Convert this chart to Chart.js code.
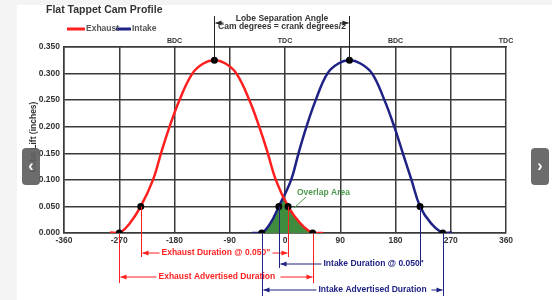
<!DOCTYPE html>
<html>
<head>
<meta charset="utf-8">
<script src="https://cdn.jsdelivr.net/npm/chart.js@4"></script>
<style>
  html, body { margin: 0; padding: 0; background: #f4f4f4; }
  #wrap { position: relative; width: 552px; height: 300px; }
  .nav {
    position: absolute; width: 18px; height: 37px; top: 148px;
    background: rgba(95,95,95,0.92); border-radius: 4px; color: #fff;
    font: bold 16px "Liberation Sans", sans-serif; line-height: 35px; text-align: center;
  }
</style>
</head>
<body>
<div id="wrap">
  <canvas id="cam" width="552" height="300"></canvas>
  <div class="nav" style="left:22px">&lsaquo;</div>
  <div class="nav" style="left:531px">&rsaquo;</div>
</div>
<script>
// cam degrees vs lobe lift (inches)
const exhaustDeg  = [-285, -270, -253, -235, -215, -202, -188, -172, -151, -133, -115, -97, -79, -58, -42, -28, -15, 5, 25, 45, 62];
const exhaustLift = [0.001, 0.000, 0.018, 0.050, 0.100, 0.150, 0.200, 0.250, 0.300, 0.319, 0.325, 0.319, 0.300, 0.250, 0.200, 0.150, 0.100, 0.050, 0.018, 0.000, 0.000];
const intakeDeg   = [-54, -38, -24, -10, 10, 22, 35, 50, 69, 87, 105, 123, 142, 162, 178, 192, 206, 220, 238, 257, 272];
const intakeLift  = [0.000, 0.000, 0.018, 0.050, 0.100, 0.150, 0.200, 0.250, 0.300, 0.319, 0.325, 0.319, 0.300, 0.250, 0.200, 0.150, 0.100, 0.050, 0.018, 0.000, 0.001];
const overlapDeg  = [-38, -24, -10, -2, 5, 25, 45];
const overlapLift = [0.000, 0.018, 0.050, 0.068, 0.050, 0.018, 0.000];

// marked events: open, 0.050 open, peak, 0.050 close, close
const exhaustEventDeg  = [-270, -235, -115, 5, 45];
const exhaustEventLift = [0.000, 0.050, 0.325, 0.050, 0.000];
const intakeEventDeg   = [-38, -10, 105, 220, 257];
const intakeEventLift  = [0.000, 0.050, 0.325, 0.050, 0.000];

const topMarkDeg    = [-180, 0, 180, 360];
const topMarkLabels = ["BDC", "TDC", "BDC", "TDC"];

const RED = "#ff1f1f";
const BLUE = "#1f2285";
const GRID = "#3a3a3a";
const FONT = "'Liberation Sans', Arial, sans-serif";

const pts = (xs, ys) => xs.map((x, i) => ({ x: x, y: ys[i] }));

function arrow(ctx, x1, y, x2, color) {
  const dir = x2 > x1 ? 1 : -1;
  ctx.strokeStyle = color;
  ctx.fillStyle = color;
  ctx.lineWidth = 1;
  ctx.beginPath();
  ctx.moveTo(x1, y);
  ctx.lineTo(x2, y);
  ctx.stroke();
  ctx.beginPath();
  ctx.moveTo(x2, y);
  ctx.lineTo(x2 - dir * 6, y - 2.5);
  ctx.lineTo(x2 - dir * 6, y + 2.5);
  ctx.closePath();
  ctx.fill();
}

function vline(ctx, x, y1, y2, color) {
  ctx.strokeStyle = color;
  ctx.lineWidth = 1;
  ctx.beginPath();
  ctx.moveTo(x, y1);
  ctx.lineTo(x, y2);
  ctx.stroke();
}

const overlay = {
  id: "overlay",
  beforeDraw(chart) {
    const ctx = chart.ctx;
    ctx.save();
    ctx.fillStyle = "#f4f4f4";
    ctx.fillRect(0, 0, chart.width, chart.height);
    ctx.fillStyle = "#ffffff";
    ctx.fillRect(17, 5, chart.width - 17, chart.height - 5);
    ctx.restore();
  },
  afterDraw(chart) {
    const ctx = chart.ctx;
    const xs = chart.scales.x, ys = chart.scales.y;
    const px = (v) => Math.round(xs.getPixelForValue(v)) + 0.5;
    ctx.save();

    // title
    ctx.fillStyle = "#333";
    ctx.font = "bold 10.5px " + FONT;
    ctx.textBaseline = "middle";
    ctx.textAlign = "left";
    ctx.fillText("Flat Tappet Cam Profile", 46, 10);

    // legend
    ctx.lineWidth = 3;
    ctx.strokeStyle = RED;
    ctx.beginPath(); ctx.moveTo(67, 29); ctx.lineTo(85, 29); ctx.stroke();
    ctx.strokeStyle = BLUE;
    ctx.beginPath(); ctx.moveTo(116, 29); ctx.lineTo(131, 29); ctx.stroke();
    ctx.fillStyle = "#555";
    ctx.font = "bold 8.5px " + FONT;
    ctx.fillText("Exhaust", 86, 29);
    ctx.fillText("Intake", 132, 29);

    // y axis title
    ctx.save();
    ctx.translate(34, 137);
    ctx.rotate(-Math.PI / 2);
    ctx.textAlign = "center";
    ctx.fillStyle = "#333";
    ctx.fillText("Lobe Lift (inches)", 0, 0);
    ctx.restore();

    // lobe separation
    const exPk = px(exhaustEventDeg[2]), inPk = px(intakeEventDeg[2]);
    vline(ctx, exPk, 16, ys.getPixelForValue(exhaustEventLift[2]), "#222");
    vline(ctx, inPk, 16, ys.getPixelForValue(intakeEventLift[2]), "#222");
    arrow(ctx, exPk + 9, 23, exPk + 1, "#222");
    arrow(ctx, inPk - 9, 23, inPk - 1, "#222");
    ctx.fillStyle = "#333";
    ctx.textAlign = "center";
    ctx.font = "bold 8.5px " + FONT;
    const mid = (exPk + inPk) / 2;
    ctx.fillText("Lobe Separation Angle", mid, 19);
    ctx.fillText("Cam degrees = crank degrees/2", mid, 27);

    // overlap label
    ctx.fillStyle = "#4f9a4f";
    ctx.textAlign = "left";
    ctx.font = "bold 8.5px " + FONT;
    ctx.fillText("Overlap Area", 297, 193);
    ctx.strokeStyle = "#4f9a4f";
    ctx.lineWidth = 1;
    ctx.beginPath(); ctx.moveTo(306, 197); ctx.lineTo(294, 208); ctx.stroke();

    // durations
    ctx.font = "bold 8.5px " + FONT;
    ctx.textAlign = "left";
    const d0 = 0.5 + Math.round(ys.getPixelForValue(0.05));
    const z0 = 0.5 + Math.round(ys.getPixelForValue(0));

    // exhaust @ 0.050
    let a = px(exhaustEventDeg[1]), b = px(exhaustEventDeg[3]);
    vline(ctx, a, d0, 257, RED); vline(ctx, b, d0, 257, RED);
    ctx.fillStyle = RED;
    ctx.fillText("Exhaust Duration @ 0.050\"", a + 20, 253);
    arrow(ctx, a + 18, 253, a + 1, RED);
    arrow(ctx, b - 16, 253, b - 1, RED);

    // exhaust advertised
    a = px(exhaustEventDeg[0]); b = px(exhaustEventDeg[4]);
    vline(ctx, a, z0, 283, RED); vline(ctx, b, z0, 283, RED);
    ctx.fillStyle = RED;
    ctx.fillText("Exhaust Advertised Duration", a + 39, 277);
    arrow(ctx, a + 37, 277, a + 1, RED);
    arrow(ctx, b - 33, 277, b - 1, RED);

    // intake @ 0.050
    a = px(intakeEventDeg[1]); b = px(intakeEventDeg[3]);
    vline(ctx, a, d0, 268, BLUE); vline(ctx, b, d0, 266, BLUE);
    ctx.fillStyle = BLUE;
    ctx.fillText("Intake Duration @ 0.050\"", a + 44, 264);
    arrow(ctx, a + 42, 264, a + 1, BLUE);

    // intake advertised
    a = px(intakeEventDeg[0]); b = px(intakeEventDeg[4]);
    vline(ctx, a, z0, 296, BLUE); vline(ctx, b, z0, 296, BLUE);
    ctx.fillStyle = BLUE;
    ctx.fillText("Intake Advertised Duration", a + 56, 290);
    arrow(ctx, a + 54, 290, a + 1, BLUE);
    arrow(ctx, b - 12, 290, b - 1, BLUE);

    ctx.restore();
  }
};

new Chart(document.getElementById("cam").getContext("2d"), {
  type: "scatter",
  data: {
    datasets: [
      {
        label: "Exhaust",
        data: pts(exhaustDeg, exhaustLift),
        showLine: true,
        borderColor: RED,
        borderWidth: 2.5,
        pointRadius: 0,
        tension: 0.4,
        order: 2,
      },
      {
        label: "Intake",
        data: pts(intakeDeg, intakeLift),
        showLine: true,
        borderColor: BLUE,
        borderWidth: 2.5,
        pointRadius: 0,
        tension: 0.4,
        order: 2,
      },
      {
        label: "Overlap",
        data: pts(overlapDeg, overlapLift),
        showLine: true,
        fill: "origin",
        backgroundColor: "#3f8c3f",
        borderWidth: 0,
        pointRadius: 0,
        cubicInterpolationMode: "monotone",
        order: 3,
      },
      {
        label: "Exhaust events",
        data: pts(exhaustEventDeg, exhaustEventLift),
        backgroundColor: "#000",
        borderWidth: 0,
        pointRadius: 3.5,
        order: 1,
      },
      {
        label: "Intake events",
        data: pts(intakeEventDeg, intakeEventLift),
        backgroundColor: "#000",
        borderWidth: 0,
        pointRadius: 3.5,
        order: 1,
      },
    ],
  },
  options: {
    responsive: false,
    animation: false,
    layout: { padding: { left: 0, right: 46, top: 35, bottom: 51 } },
    plugins: {
      legend: { display: false },
      tooltip: { enabled: false },
    },
    scales: {
      x: {
        type: "linear",
        min: -360,
        max: 360,
        afterFit: (s) => { s.height = 16; },
        ticks: {
          stepSize: 90,
          padding: 3,
          color: "#333",
          font: { family: FONT, size: 8.5, weight: "bold" },
        },
        grid: { color: GRID, lineWidth: 1.5, drawTicks: false },
        border: { color: GRID, width: 1.5 },
      },
      x2: {
        type: "linear",
        position: "top",
        min: -360,
        max: 360,
        afterFit: (s) => { s.height = 12; },
        afterBuildTicks: (s) => { s.ticks = topMarkDeg.map((v) => ({ value: v })); },
        ticks: {
          padding: 2,
          color: "#333",
          font: { family: FONT, size: 7, weight: "bold" },
          callback: (v) => topMarkLabels[topMarkDeg.indexOf(v)],
        },
        grid: { display: false, drawTicks: false },
        border: { color: GRID, width: 1.5 },
      },
      y: {
        min: 0,
        max: 0.35,
        afterFit: (s) => { s.width = 64; },
        ticks: {
          stepSize: 0.05,
          padding: 4,
          color: "#333",
          font: { family: FONT, size: 8.5, weight: "bold" },
          callback: (v) => v.toFixed(3),
        },
        grid: { color: GRID, lineWidth: 1.5, drawTicks: false },
        border: { color: GRID, width: 1.5 },
      },
    },
  },
  plugins: [overlay],
});
</script>
</body>
</html>
